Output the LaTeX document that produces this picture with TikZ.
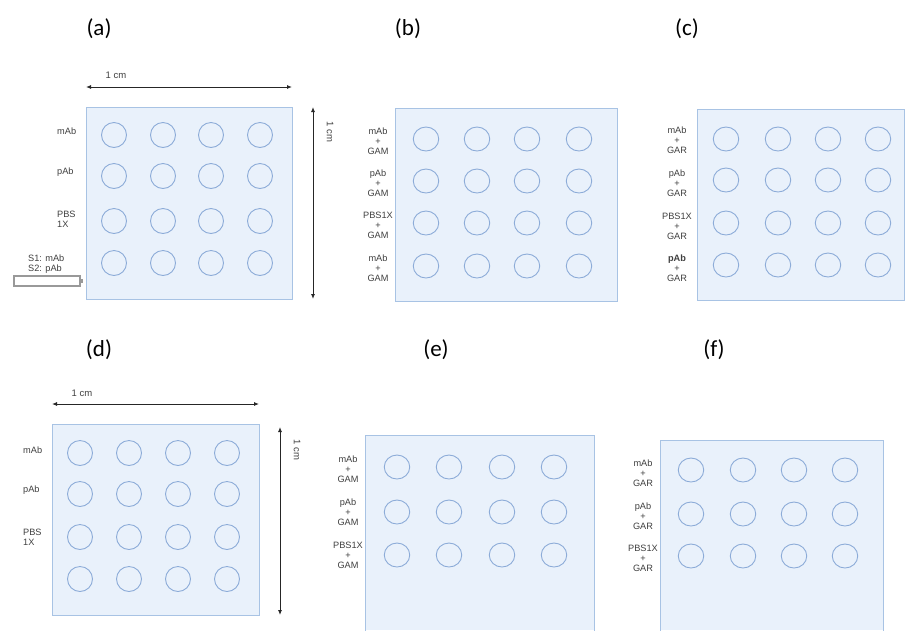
\documentclass[tikz,border=0pt]{standalone}
\usepackage{fontspec}
\setmainfont{Liberation Sans}
\newfontfamily\panelfont{Carlito}
\usetikzlibrary{arrows.meta,shapes.geometric}
\definecolor{boxfill}{HTML}{E9F1FB}
\definecolor{boxline}{HTML}{A8C3E4}
\definecolor{wellline}{HTML}{8DACD8}
\definecolor{txt}{HTML}{404040}
\tikzset{
  plate/.style={draw=boxline,fill=boxfill,line width=1pt},
  well/.style={draw=wellline,line width=0.9pt,ellipse,minimum width=25pt,minimum height=25pt,inner sep=0pt},
  wellb/.style={well,minimum width=25.5pt,minimum height=24pt},
  lbl/.style={text=txt,font=\fontsize{9.2}{10}\selectfont,inner sep=0pt,align=center},
  lbll/.style={lbl,align=left,anchor=west},
  panel/.style={font=\panelfont\fontsize{23}{26}\selectfont,inner sep=0pt},
  dimarrow/.style={{Latex[length=5pt,width=4pt]}-{Latex[length=5pt,width=4pt]},line width=0.9pt,black!85},
  dimtext/.style={text=txt,font=\fontsize{9.5}{11}\selectfont,inner sep=0pt}
}
\begin{document}
\begin{tikzpicture}[x=1pt,y=-1pt]
\useasboundingbox (0,0) rectangle (905,630);
\fill[white] (0,0) rectangle (905,630);

% panel labels
\node[panel] (pa) at (99,29) {(a)};
\node[panel] (pb) at (408,29) {(b)};
\node[panel] (pc) at (687,29) {(c)};
\node[panel] (pd) at (99,350) {(d)};
\node[panel] (pe) at (436,350) {(e)};
\node[panel] (pf) at (714,350) {(f)};

% ---------- (a)
\draw[plate] (86,107) rectangle (292,299);
\foreach \x [count=\i] in {114,163,211,260}{
  \foreach \y [count=\j] in {135,176,221,263}{
    \node[well] (a-\j-\i) at (\x,\y) {};
  }
}
\coordinate (ah1) at (86,87); \coordinate (ah2) at (292,87);
\draw[dimarrow] (ah1) -- (ah2);
\node[dimtext] (acm1) at (116,75) {1 cm};
\coordinate (av1) at (313,107); \coordinate (av2) at (313,299);
\draw[dimarrow] (av1) -- (av2);
\node[dimtext,rotate=-90] (acm2) at (330,132) {1 cm};
\node[lbll] (al1) at (57,131) {mAb};
\node[lbll] (al2) at (57,172) {pAb};
\node[lbll] (al3) at (57,219) {PBS\\1X};
\node[lbll] (al4) at (28,264) {S1: mAb\\S2: pAb};
\draw[draw=gray!80,line width=1.4pt,fill=white] (14,276) rectangle (80,286);
\fill[gray!80] (80.5,279) rectangle (82.5,283);

% ---------- (b)
\draw[plate] (395,108) rectangle (617,301);
\foreach \x [count=\i] in {426,477,527,579}{
  \foreach \y [count=\j] in {139,181,223,266}{
    \node[wellb] (b-\j-\i) at (\x,\y) {};
  }
}
\node[lbl] (bl1) at (378,141) {mAb\\+\\GAM};
\node[lbl] (bl2) at (378,183) {pAb\\+\\GAM};
\node[lbl] (bl3) at (378,225) {PBS1X\\+\\GAM};
\node[lbl] (bl4) at (378,268) {mAb\\+\\GAM};

% ---------- (c)
\draw[plate] (697,109) rectangle (904,300);
\foreach \x [count=\i] in {726,778,828,878}{
  \foreach \y [count=\j] in {139,180,223,265}{
    \node[wellb] (c-\j-\i) at (\x,\y) {};
  }
}
\node[lbl] (cl1) at (677,140) {mAb\\+\\GAR};
\node[lbl] (cl2) at (677,183) {pAb\\+\\GAR};
\node[lbl] (cl3) at (677,226) {PBS1X\\+\\GAR};
\node[lbl] (cl4) at (677,268) {\textbf{pAb}\\+\\GAR};

% ---------- (d)
\draw[plate] (52,424) rectangle (259,615);
\foreach \x [count=\i] in {80,129,178,227}{
  \foreach \y [count=\j] in {453,494,537,579}{
    \node[well] (d-\j-\i) at (\x,\y) {};
  }
}
\coordinate (dh1) at (52,404); \coordinate (dh2) at (259,404);
\draw[dimarrow] (dh1) -- (dh2);
\node[dimtext] (dcm1) at (82,393) {1 cm};
\coordinate (dv1) at (280,427); \coordinate (dv2) at (280,615);
\draw[dimarrow] (dv1) -- (dv2);
\node[dimtext,rotate=-90] (dcm2) at (297,450) {1 cm};
\node[lbll] (dl1) at (23,450) {mAb};
\node[lbll] (dl2) at (23,490) {pAb};
\node[lbll] (dl3) at (23,537) {PBS\\1X};

% ---------- (e)
\fill[boxfill] (365,435) rectangle (594,630);
\draw[boxline,line width=1pt] (365,631) -- (365,435) -- (594,435) -- (594,631);
\foreach \x [count=\i] in {397,449,502,554}{
  \foreach \y [count=\j] in {467,512,555}{
    \node[wellb] (e-\j-\i) at (\x,\y) {};
  }
}
\node[lbl] (el1) at (348,469) {mAb\\+\\GAM};
\node[lbl] (el2) at (348,512) {pAb\\+\\GAM};
\node[lbl] (el3) at (348,555) {PBS1X\\+\\GAM};

% ---------- (f)
\fill[boxfill] (660,440) rectangle (883,630);
\draw[boxline,line width=1pt] (660,631) -- (660,440) -- (883,440) -- (883,631);
\foreach \x [count=\i] in {691,743,794,845}{
  \foreach \y [count=\j] in {470,514,556}{
    \node[wellb] (f-\j-\i) at (\x,\y) {};
  }
}
\node[lbl] (fl1) at (643,473) {mAb\\+\\GAR};
\node[lbl] (fl2) at (643,516) {pAb\\+\\GAR};
\node[lbl] (fl3) at (643,558) {PBS1X\\+\\GAR};
\end{tikzpicture}
\end{document}
